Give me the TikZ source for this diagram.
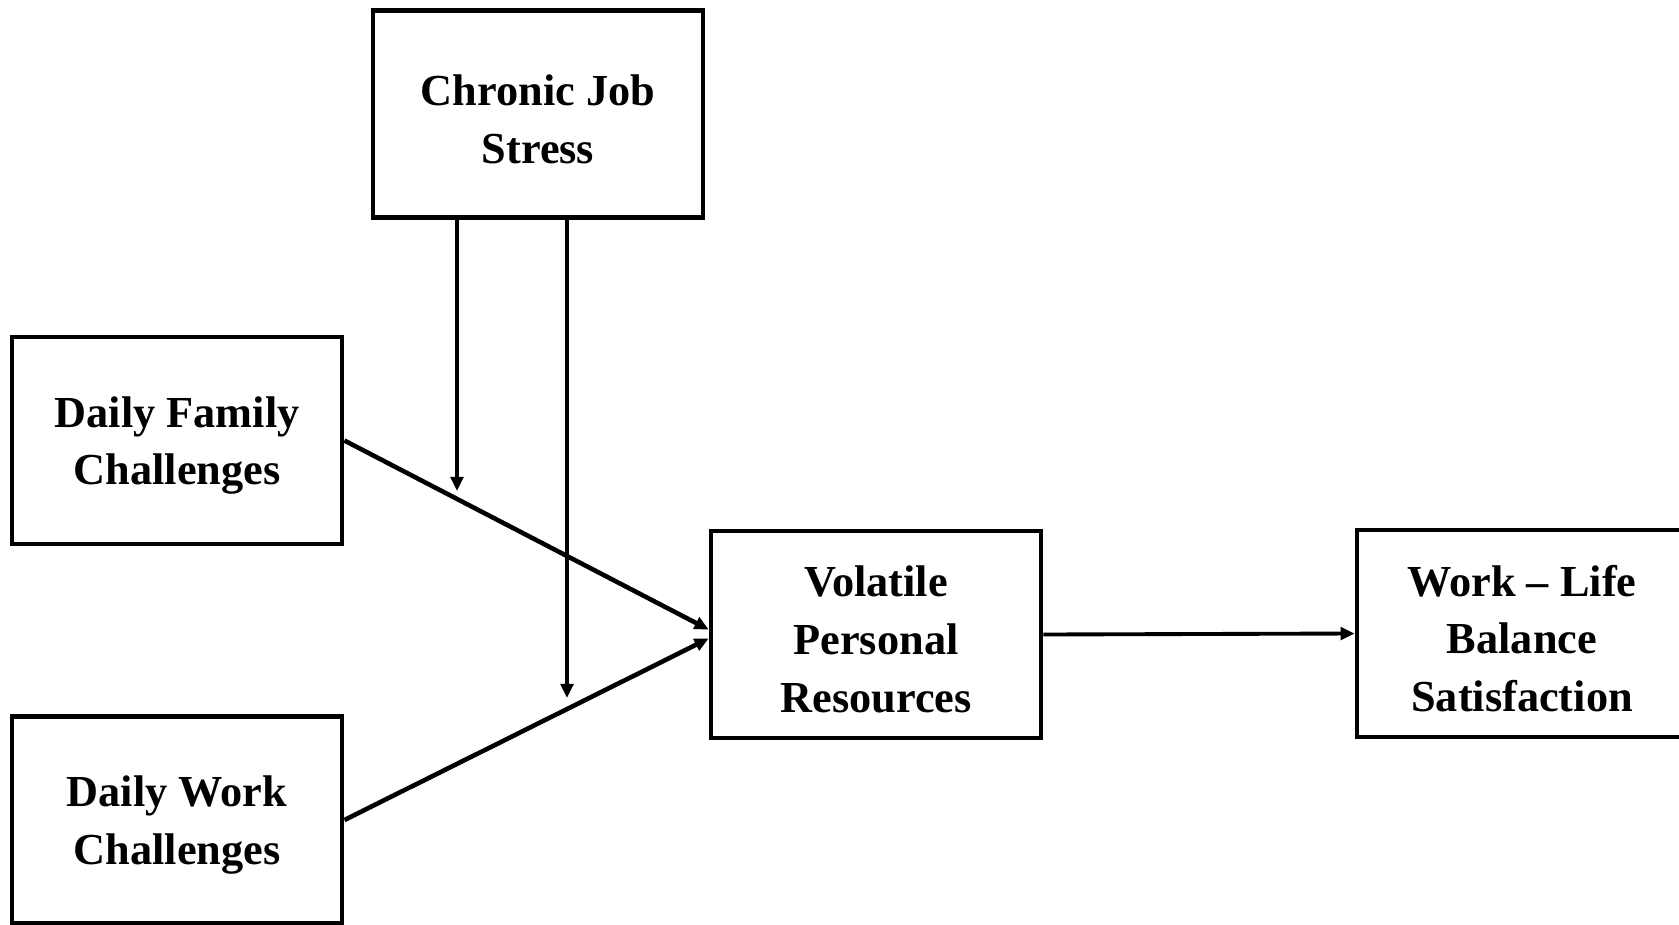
\documentclass[tikz,border=0pt]{standalone}
\usepackage{fontspec}
\setmainfont{Liberation Serif}
\usetikzlibrary{positioning, arrows.meta}

\begin{document}
\begin{tikzpicture}[
                x=0.01cm, y=-0.01cm,
                box/.style={rectangle, draw, line width=1.3pt, minimum width=3.3cm, minimum height=2.07cm,
                            align=center, font=\fontsize{12.6}{16.4}\selectfont\bfseries, fill=white},
                edge/.style={-{Triangle[length=4pt, width=3.6pt]}, line width=1.1pt},
                link/.style={-{Triangle[length=4pt, width=3.6pt]}, line width=1.3pt}
            ]
                \useasboundingbox (0, 0) rectangle (1679, 924);

                % boxes
                \node[box] (chronic) at (538, 114) {\rule{0pt}{11.6pt}Chronic Job\\Stress};
                \node[box] (family) at (177, 440.5) {\rule{0pt}{11.6pt}Daily Family\\Challenges};
                \node[box] (work) at (177, 820) {\rule{0pt}{11.6pt}Daily Work\\Challenges};
                \node[box] (volatile) at (876, 634.5) {\rule{0pt}{11.6pt}Volatile\\Personal\\Resources};
                \node[box] (balance) at (1522, 633.5) {\rule{0pt}{11.6pt}Work -- Life\\Balance\\Satisfaction};

                % moderation end points
                \coordinate (mod1) at (457, 491);
                \coordinate (mod2) at (567, 698);

                % daily challenges -> resources
                \draw[link] (family.east) -- ([yshift=0.05cm]volatile.west);
                \draw[link] (work.east) -- ([yshift=-0.04cm]volatile.west);

                % chronic stress as moderator
                \draw[edge] (chronic.south -| mod1) -- (mod1);
                \draw[edge] (chronic.south -| mod2) -- (mod2);

                % resources -> balance
                \draw[edge] (volatile.east) -- (balance.west);

            \end{tikzpicture}
\end{document}
